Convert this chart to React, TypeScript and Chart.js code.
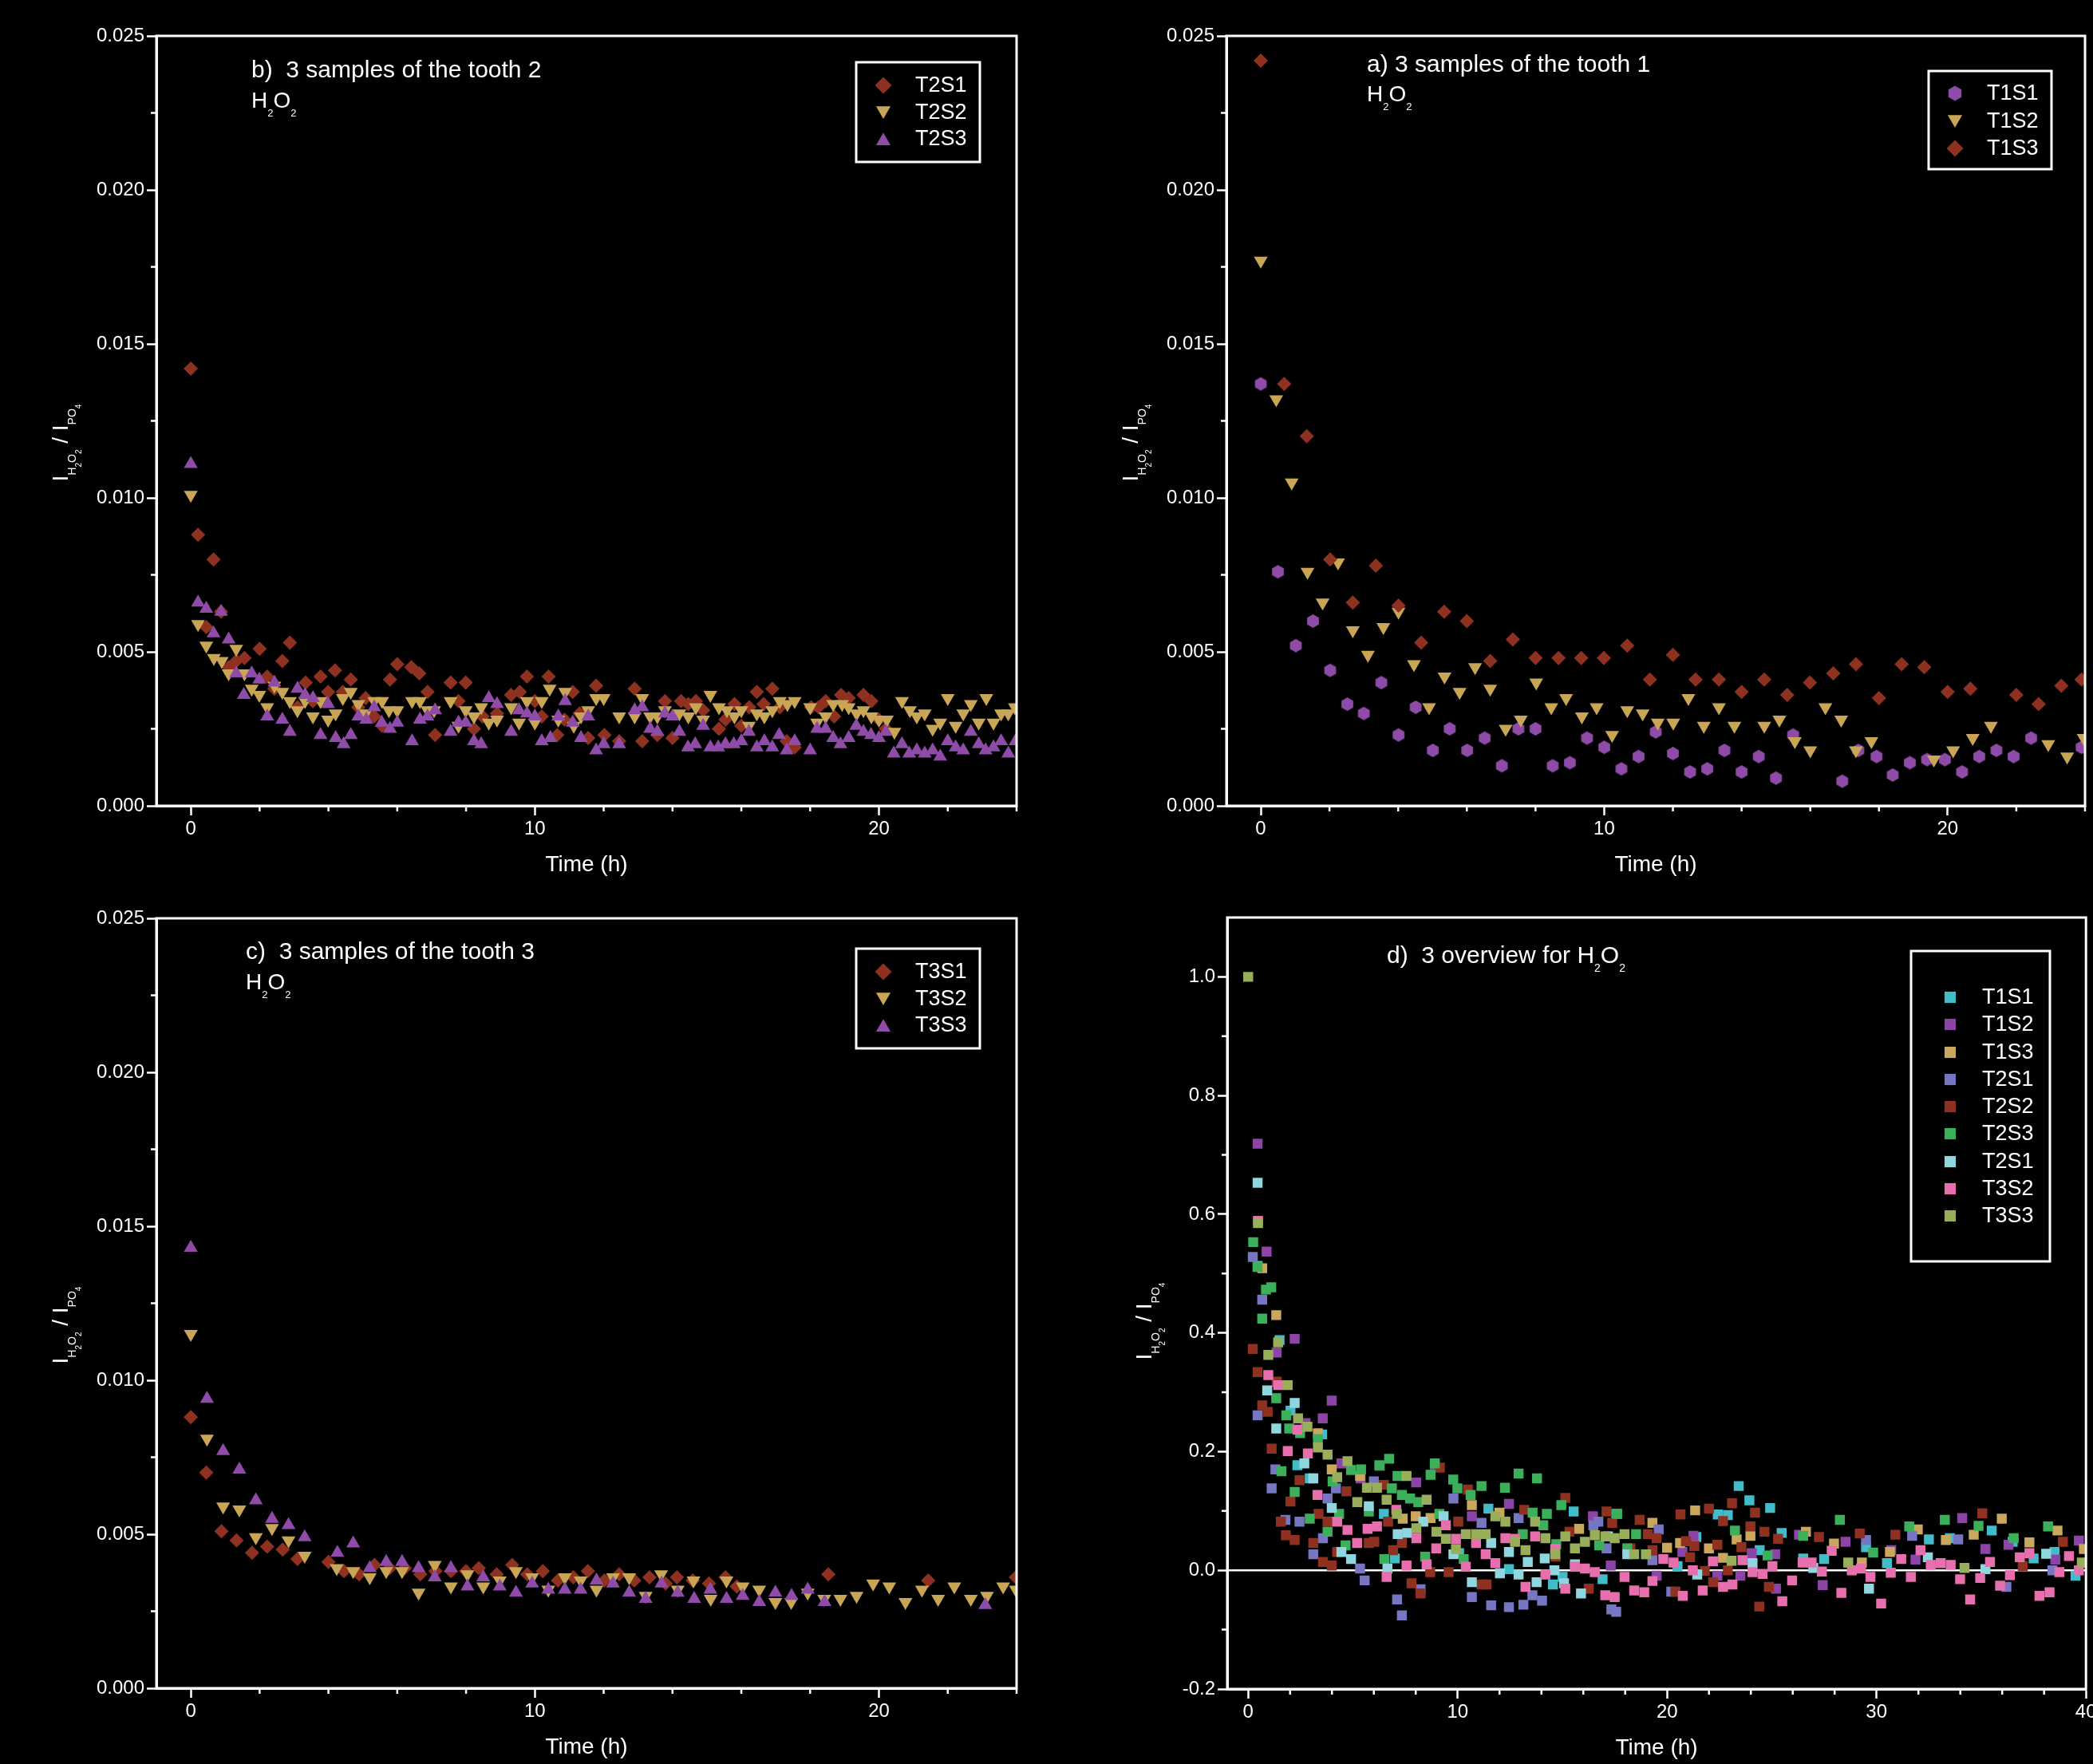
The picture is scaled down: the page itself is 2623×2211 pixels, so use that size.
import React, { useEffect, useRef } from 'react';
import { Chart, registerables } from 'chart.js';

Chart.register(...registerables);

const FONT = "'Liberation Sans', Arial, Helvetica, sans-serif";
const WHITE = '#ffffff';

type Pt = [number, number];

// ---------------- Panel b : tooth 2 ----------------
const B_T2S1: Pt[] = [[0,0.0142],[0.21,0.0088],[0.45,0.0058],[0.66,0.0080],[0.88,0.0063],[1.1,0.0045],[1.32,0.0047],[1.56,0.0048],[2.0,0.0051],[2.22,0.0042],[2.43,0.0038],[2.66,0.0047],[2.88,0.0053],[3.1,0.0032],[3.34,0.0040],[3.55,0.0034],[3.77,0.0042],[3.99,0.0037],[4.19,0.0044],[4.42,0.0037],[4.65,0.0041],[4.87,0.0032],[5.08,0.0035],[5.33,0.0029],[5.56,0.0026],[5.79,0.0041],[6.0,0.0046],[6.41,0.0045],[6.64,0.0043],[6.88,0.0037],[7.1,0.0023],[7.55,0.0040],[7.78,0.0034],[7.99,0.0040],[8.23,0.0025],[8.48,0.0029],[8.9,0.0030],[9.31,0.0036],[9.56,0.0037],[9.77,0.0042],[10.0,0.0034],[10.2,0.0029],[10.4,0.0042],[10.65,0.0023],[10.86,0.0028],[11.1,0.0037],[11.3,0.0030],[11.55,0.0022],[11.78,0.0039],[12.02,0.0023],[12.45,0.0021],[12.9,0.0038],[13.12,0.0021],[13.56,0.0023],[13.78,0.0034],[14.0,0.0022],[14.25,0.0034],[14.46,0.0033],[14.68,0.0034],[14.89,0.0031],[15.35,0.0025],[15.54,0.0028],[15.8,0.0033],[16.0,0.0026],[16.23,0.0032],[16.45,0.0037],[16.65,0.0033],[16.9,0.0038],[17.12,0.0032],[17.32,0.0021],[17.55,0.0019],[18.03,0.0032],[18.24,0.0032],[18.45,0.0034],[18.7,0.0029],[18.9,0.0036],[19.12,0.0035],[19.55,0.0036],[19.78,0.0034],[20.0,0.0028],[20.2,0.0025]];
const B_T2S2: Pt[] = [[0,0.0101],[0.21,0.0059],[0.45,0.0052],[0.67,0.0048],[0.9,0.0047],[1.1,0.0043],[1.32,0.0051],[1.56,0.0043],[1.77,0.0038],[1.99,0.0036],[2.22,0.0032],[2.43,0.0039],[2.66,0.0037],[2.88,0.0034],[3.1,0.0031],[3.32,0.0034],[3.55,0.0029],[3.77,0.0034],[3.99,0.0028],[4.21,0.0030],[4.42,0.0035],[4.65,0.0037],[4.87,0.0033],[5.08,0.0030],[5.33,0.0034],[5.56,0.0034],[5.76,0.0031],[6.0,0.0031],[6.43,0.0034],[6.66,0.0034],[6.88,0.0031],[7.07,0.0031],[7.55,0.0034],[7.78,0.0026],[7.99,0.0031],[8.23,0.0029],[8.44,0.0032],[8.66,0.0027],[8.9,0.0028],[9.31,0.0032],[9.54,0.0027],[9.77,0.0034],[10.0,0.0027],[10.2,0.0034],[10.43,0.0038],[10.68,0.0028],[10.88,0.0037],[11.13,0.0026],[11.34,0.0029],[11.55,0.0031],[11.78,0.0035],[12.0,0.0035],[12.45,0.0029],[12.9,0.0029],[13.12,0.0035],[13.35,0.0029],[13.56,0.0029],[13.78,0.0031],[14.2,0.0030],[14.46,0.0029],[14.68,0.0032],[14.89,0.0028],[15.1,0.0036],[15.35,0.0032],[15.58,0.0031],[15.8,0.0029],[16.0,0.0031],[16.22,0.0026],[16.45,0.0030],[16.67,0.0029],[16.9,0.0031],[17.12,0.0034],[17.34,0.0033],[17.55,0.0034],[18.0,0.0032],[18.2,0.0027],[18.45,0.0029],[18.67,0.0033],[18.93,0.0033],[19.12,0.0032],[19.35,0.0030],[19.55,0.0031],[19.78,0.0029],[20.0,0.0028],[20.23,0.0028],[20.45,0.0024],[20.67,0.0034],[20.9,0.0031],[21.1,0.0029],[21.33,0.0030],[21.56,0.0025],[21.78,0.0027],[22.0,0.0035],[22.23,0.0026],[22.45,0.0030],[22.67,0.0033],[22.9,0.0027],[23.12,0.0035],[23.33,0.0027],[23.55,0.0030],[23.76,0.0030],[23.95,0.0032]];
const B_T2S3: Pt[] = [[0,0.0111],[0.21,0.0066],[0.45,0.0064],[0.66,0.0056],[0.88,0.0063],[1.1,0.0054],[1.32,0.0043],[1.54,0.0036],[1.77,0.0043],[1.99,0.0041],[2.22,0.0029],[2.43,0.0040],[2.66,0.0028],[2.88,0.0024],[3.1,0.0038],[3.32,0.0036],[3.55,0.0035],[3.77,0.0023],[3.99,0.0033],[4.21,0.0022],[4.44,0.0020],[4.65,0.0023],[4.87,0.0029],[5.1,0.0028],[5.33,0.0032],[5.55,0.0027],[5.79,0.0025],[6.0,0.0027],[6.43,0.0021],[6.66,0.0028],[6.88,0.0029],[7.1,0.0031],[7.55,0.0024],[7.78,0.0027],[7.99,0.0027],[8.23,0.0021],[8.44,0.0020],[8.66,0.0035],[8.9,0.0033],[9.31,0.0024],[9.54,0.0031],[9.77,0.0030],[10.0,0.0029],[10.2,0.0021],[10.45,0.0022],[10.68,0.0029],[10.88,0.0034],[11.1,0.0027],[11.34,0.0022],[11.55,0.0029],[11.78,0.0018],[12.0,0.0020],[12.45,0.0020],[12.9,0.0031],[13.12,0.0032],[13.35,0.0025],[13.56,0.0024],[13.78,0.0030],[14.0,0.0029],[14.2,0.0024],[14.45,0.0019],[14.66,0.0020],[14.89,0.0026],[15.1,0.0019],[15.33,0.0019],[15.54,0.0020],[15.78,0.0020],[16.0,0.0021],[16.22,0.0024],[16.45,0.0019],[16.67,0.0021],[16.9,0.0019],[17.1,0.0023],[17.32,0.0018],[17.55,0.0021],[18.0,0.0018],[18.2,0.0025],[18.45,0.0025],[18.67,0.0022],[18.88,0.0020],[19.12,0.0022],[19.34,0.0026],[19.55,0.0024],[19.77,0.0023],[20.0,0.0022],[20.2,0.0024],[20.43,0.0017],[20.67,0.0020],[20.88,0.0017],[21.1,0.0018],[21.33,0.0017],[21.56,0.0018],[21.78,0.0016],[22.0,0.0021],[22.23,0.0019],[22.45,0.0018],[22.67,0.0024],[22.9,0.0020],[23.1,0.0018],[23.33,0.0019],[23.55,0.0021],[23.76,0.0017],[23.97,0.0021]];

// ---------------- Panel a : tooth 1 ----------------
const A_T1S1: Pt[] = [[0,0.0137],[0.5,0.0076],[1.02,0.0052],[1.52,0.0060],[2.02,0.0044],[2.52,0.0033],[3.0,0.0030],[3.51,0.0040],[4.01,0.0023],[4.51,0.0032],[5.01,0.0018],[5.5,0.0025],[6.01,0.0018],[6.52,0.0022],[7.02,0.0013],[7.5,0.0025],[8.0,0.0025],[8.5,0.0013],[9.0,0.0014],[9.5,0.0022],[10.0,0.0019],[10.5,0.0012],[11.0,0.0016],[11.5,0.0024],[12.0,0.0017],[12.5,0.0011],[13.0,0.0012],[13.5,0.0018],[14.0,0.0011],[14.5,0.0016],[15.0,0.0009],[15.5,0.0023],[16.93,0.0008],[17.4,0.0018],[17.93,0.0016],[18.4,0.0010],[18.9,0.0014],[19.4,0.0015],[19.92,0.0015],[20.42,0.0011],[20.92,0.0016],[21.42,0.0018],[21.92,0.0016],[22.43,0.0022],[23.9,0.0019]];
const A_T1S2: Pt[] = [[0,0.0177],[0.45,0.0132],[0.9,0.0105],[1.36,0.0076],[1.8,0.0066],[2.25,0.0079],[2.68,0.0057],[3.12,0.0049],[3.57,0.0058],[4.01,0.0063],[4.46,0.0046],[4.9,0.0032],[5.35,0.0042],[5.79,0.0037],[6.24,0.0045],[6.68,0.0038],[7.13,0.0025],[7.57,0.0028],[8.02,0.0040],[8.46,0.0032],[8.89,0.0035],[9.35,0.0029],[9.78,0.0032],[10.23,0.0023],[10.67,0.0031],[11.12,0.0030],[11.56,0.0027],[12.01,0.0027],[12.45,0.0035],[12.9,0.0026],[13.34,0.0032],[13.79,0.0026],[14.66,0.0026],[15.1,0.0028],[15.55,0.0021],[16.0,0.0018],[16.44,0.0032],[16.9,0.0028],[17.33,0.0018],[17.78,0.0021],[19.6,0.0015],[20.16,0.0018],[20.73,0.0022],[21.26,0.0026],[22.93,0.0020],[23.48,0.0016],[23.96,0.0022]];
const A_T1S3: Pt[] = [[0,0.0242],[0.68,0.0137],[1.34,0.0120],[2.02,0.0080],[2.68,0.0066],[3.35,0.0078],[4.01,0.0065],[4.67,0.0053],[5.34,0.0063],[6.0,0.0060],[6.68,0.0047],[7.34,0.0054],[8.0,0.0048],[8.67,0.0048],[9.33,0.0048],[9.99,0.0048],[10.67,0.0052],[11.33,0.0041],[12.0,0.0049],[12.66,0.0041],[13.34,0.0041],[14.0,0.0037],[14.66,0.0041],[15.33,0.0036],[15.99,0.0040],[16.67,0.0043],[17.33,0.0046],[18.0,0.0035],[18.66,0.0046],[19.32,0.0045],[20.0,0.0037],[20.66,0.0038],[22.0,0.0036],[22.65,0.0033],[23.31,0.0039],[23.9,0.0041]];

// ---------------- Panel c : tooth 3 ----------------
const C_T3S1: Pt[] = [[0,0.0088],[0.45,0.0070],[0.89,0.0051],[1.33,0.0048],[1.78,0.0044],[2.22,0.0046],[2.67,0.0045],[3.1,0.0042],[4.0,0.0041],[4.45,0.0038],[4.89,0.0037],[5.34,0.0040],[5.78,0.0039],[6.22,0.0039],[6.67,0.0037],[7.11,0.0038],[7.56,0.0038],[8.0,0.0038],[8.37,0.0039],[8.89,0.0037],[9.34,0.0040],[9.78,0.0037],[10.23,0.0038],[10.67,0.0035],[11.12,0.0036],[11.54,0.0038],[12.02,0.0035],[12.45,0.0037],[12.89,0.0035],[13.33,0.0036],[13.8,0.0034],[14.13,0.0036],[14.59,0.0035],[15.06,0.0034],[15.54,0.0036],[15.87,0.0033],[18.53,0.0037],[21.43,0.0035],[23.98,0.0036]];
const C_T3S2: Pt[] = [[0,0.0115],[0.47,0.0081],[0.94,0.0059],[1.41,0.0058],[1.89,0.0049],[2.36,0.0052],[2.84,0.0048],[3.31,0.0043],[4.24,0.0039],[4.72,0.0038],[5.2,0.0036],[5.68,0.0038],[6.14,0.0038],[6.62,0.0031],[7.09,0.0040],[7.56,0.0033],[8.04,0.0037],[8.5,0.0033],[8.98,0.0035],[9.45,0.0038],[9.92,0.0036],[10.39,0.0032],[10.87,0.0036],[11.33,0.0035],[11.79,0.0032],[12.27,0.0036],[12.74,0.0036],[13.22,0.0030],[13.67,0.0037],[14.15,0.0032],[14.61,0.0035],[15.11,0.0029],[15.57,0.0035],[16.04,0.0033],[16.52,0.0032],[16.99,0.0028],[17.45,0.0028],[17.93,0.0031],[18.41,0.0029],[18.88,0.0029],[19.35,0.0030],[19.83,0.0034],[20.3,0.0033],[20.77,0.0028],[21.25,0.0032],[21.72,0.0029],[22.19,0.0033],[22.67,0.0029],[23.14,0.0030],[23.61,0.0033],[23.98,0.0032]];
const C_T3S3: Pt[] = [[0,0.0143],[0.47,0.0094],[0.94,0.0077],[1.41,0.0071],[1.89,0.0061],[2.36,0.0055],[2.84,0.0053],[3.31,0.0049],[4.26,0.0044],[4.72,0.0047],[5.2,0.0039],[5.68,0.0041],[6.14,0.0041],[6.62,0.0039],[7.09,0.0036],[7.56,0.0039],[8.04,0.0033],[8.5,0.0036],[8.98,0.0033],[9.45,0.0031],[9.92,0.0034],[10.39,0.0032],[10.87,0.0032],[11.33,0.0032],[11.79,0.0035],[12.27,0.0034],[12.74,0.0031],[13.22,0.0029],[13.68,0.0034],[14.15,0.0031],[14.63,0.0029],[15.1,0.0032],[15.57,0.0029],[16.04,0.0030],[16.52,0.0028],[16.99,0.0031],[17.46,0.0030],[17.93,0.0032],[18.42,0.0028],[23.09,0.0027]];

// ---------------- Panel d : overview (normalised) ----------------
const D_T1S1: Pt[] = [[0.45,0.513],[1.5,0.388],[2.02,0.269],[2.35,0.177],[2.94,0.155],[3.53,0.229],[6.48,0.095],[7.0,0.020],[10.07,0.029],[11.47,0.104],[12.45,0.002],[14.55,-0.024],[15.01,-0.011],[15.54,0.099],[16.92,-0.015],[17.57,0.095],[20.5,0.007],[21.4,0.056],[22.42,0.094],[22.9,0.093],[23.42,0.142],[23.93,0.118],[24.42,0.034],[24.92,0.105],[25.47,0.063],[26.5,0.020],[27.5,0.019],[29.5,0.039],[30.5,0.012],[32.5,0.052],[33.5,0.054],[35.5,0.067],[36.5,0.048],[37.5,0.020],[38.5,0.031],[39.5,-0.009]];
const D_T1S2: Pt[] = [[0.45,0.719],[0.88,0.537],[1.36,0.367],[2.22,0.390],[2.74,0.248],[3.56,0.256],[3.99,0.286],[4.45,0.180],[5.37,0.155],[6.29,0.176],[8.02,0.148],[8.91,0.176],[10.68,0.091],[12.45,0.112],[16.46,0.091],[17.31,0.008],[19.5,-0.009],[20.73,0.031],[21.26,0.058],[22.4,-0.009],[23.5,-0.009],[24.04,0.029],[25.16,0.027],[25.2,-0.031],[26.3,0.060],[27.43,-0.025],[28.52,0.048],[30.7,0.034],[31.86,0.018],[34.09,0.088],[35.2,0.036],[36.3,0.043],[38.54,0.018],[39.66,0.050]];
const D_T1S3: Pt[] = [[0.67,0.509],[1.34,0.430],[3.33,0.231],[3.99,0.170],[5.34,0.159],[7.38,0.087],[8.0,0.091],[8.71,0.088],[10.68,0.110],[12.0,0.097],[15.8,0.070],[19.3,0.080],[20.0,0.038],[20.62,0.046],[21.34,0.101],[22.0,0.037],[22.67,0.021],[23.32,0.052],[23.98,0.058],[26.63,0.065],[27.97,0.045],[29.3,0.013],[30.64,0.031],[31.97,0.069],[33.31,0.051],[34.64,0.060],[35.98,0.087],[37.3,0.047],[38.64,0.067],[39.9,0.036]];
const D_T2S1: Pt[] = [[0.22,0.528],[0.45,0.261],[0.67,0.456],[1.12,0.138],[1.3,0.170],[1.78,0.085],[2.45,0.082],[3.11,0.027],[3.57,0.054],[3.79,0.121],[4.19,0.138],[5.34,0.003],[5.56,-0.017],[6.0,0.150],[7.11,-0.049],[7.34,-0.076],[8.23,-0.032],[9.8,0.121],[10.68,-0.045],[11.14,0.080],[11.6,-0.059],[12.45,-0.062],[12.91,0.088],[13.14,-0.058],[13.57,-0.042],[14.03,-0.051],[16.48,0.076],[16.72,0.082],[17.11,0.037],[17.34,-0.066],[17.57,-0.070],[19.3,0.017],[19.6,0.069],[20.2,-0.036],[29.5,0.051],[31.7,0.058],[33.9,0.052],[36.2,-0.028],[38.4,0.0]];
const D_T2S2: Pt[] = [[0.22,0.373],[0.45,0.334],[0.67,0.278],[0.93,0.267],[1.12,0.205],[1.36,0.318],[1.56,0.082],[1.8,0.059],[2.02,0.116],[2.22,0.051],[2.45,0.152],[3.11,0.046],[3.36,0.095],[3.57,0.014],[3.79,0.082],[3.99,0.008],[4.25,0.031],[4.69,0.133],[5.76,0.046],[6.02,0.048],[6.48,0.144],[6.68,0.082],[6.92,0.034],[7.34,0.046],[7.8,-0.022],[8.23,-0.039],[8.69,-0.003],[9.15,0.173],[9.57,-0.003],[10.03,0.082],[10.49,0.136],[11.14,-0.024],[11.38,-0.024],[13.18,0.102],[14.68,0.023],[15.14,0.122],[15.34,0.065],[16.26,-0.031],[17.11,0.099],[17.38,0.080],[18.25,0.037],[18.69,0.085],[19.08,0.061],[19.3,0.034],[19.5,0.054],[20.4,-0.036],[20.64,0.094],[20.9,0.049],[21.1,0.022],[21.3,0.041],[21.8,-0.001],[22.0,0.104],[22.2,-0.020],[22.4,0.043],[22.67,0.083],[22.9,0.0],[23.1,0.113],[23.55,0.039],[23.98,0.074],[24.2,0.097],[24.4,-0.061],[24.65,0.065],[24.86,-0.028],[25.3,0.053],[27.25,0.056],[29.2,0.062],[30.9,0.060],[35.05,0.096],[36.98,0.007],[38.9,0.048]];
const D_T2S3: Pt[] = [[0.24,0.553],[0.45,0.511],[0.67,0.424],[0.85,0.473],[1.1,0.477],[1.34,0.290],[1.59,0.167],[1.82,0.261],[1.96,0.239],[2.22,0.132],[2.48,0.231],[2.94,0.087],[3.33,0.221],[3.79,0.065],[4.03,0.150],[4.34,0.095],[4.65,0.042],[4.91,0.169],[5.39,0.170],[5.76,0.099],[6.26,0.177],[6.5,0.019],[6.73,0.188],[6.86,0.138],[7.13,0.159],[7.34,0.127],[7.73,0.121],[8.12,0.115],[8.45,0.023],[8.71,0.161],[8.91,0.180],[9.13,0.095],[9.79,0.153],[9.99,0.138],[10.29,0.019],[10.62,0.127],[11.14,0.142],[12.26,0.139],[12.91,0.163],[13.11,0.061],[13.58,0.097],[13.79,0.155],[14.09,0.076],[14.26,0.095],[14.71,0.044],[14.95,0.110],[16.76,0.042],[17.62,0.095],[18.1,0.037],[18.52,0.061],[18.99,0.027],[23.24,0.067],[24.8,0.025],[26.5,0.058],[28.25,0.085],[29.84,0.030],[31.56,0.074],[33.26,0.085],[34.87,0.075],[36.55,0.054],[38.19,0.074]];
const D_T2S1b: Pt[] = [[0.45,0.653],[0.91,0.303],[1.34,0.239],[2.22,0.282],[2.68,0.180],[3.11,0.155],[3.99,0.105],[4.45,0.031],[4.91,0.019],[5.76,0.108],[6.65,0.003],[7.14,0.061],[7.6,0.063],[8.36,0.082],[9.33,0.091],[9.8,0.027],[10.68,-0.020],[11.6,0.046],[12.02,-0.005],[12.45,0.031],[12.91,-0.007],[13.35,0.014],[13.77,-0.020],[14.16,0.020],[14.62,0.0],[15.08,-0.022],[15.6,0.010],[15.89,-0.039],[17.18,0.057],[18.1,0.027],[21.44,-0.007],[24.08,0.012],[26.98,0.004],[29.64,-0.031],[32.45,0.022],[35.2,0.002],[38.1,0.028]];
const D_T3S2: Pt[] = [[0.47,0.589],[0.96,0.329],[1.43,0.312],[1.89,0.201],[2.35,0.237],[2.85,0.197],[3.31,0.127],[4.25,0.082],[4.74,0.068],[5.2,0.046],[5.7,0.070],[6.15,0.074],[6.61,-0.011],[7.07,0.102],[7.56,0.008],[8.03,0.054],[8.52,0.010],[8.98,0.037],[9.44,0.076],[9.92,0.053],[10.39,0.006],[10.88,0.046],[11.34,0.027],[11.8,0.012],[12.28,0.054],[12.74,0.053],[13.24,-0.028],[13.7,0.057],[14.19,-0.007],[14.66,0.036],[15.14,-0.031],[15.6,0.006],[16.08,0.003],[16.55,-0.003],[17.05,-0.042],[17.5,-0.045],[17.97,-0.011],[18.43,-0.034],[18.91,-0.037],[19.3,-0.018],[19.82,0.019],[20.31,0.013],[20.75,-0.043],[21.23,0.0],[21.7,-0.034],[22.19,0.015],[22.67,-0.028],[23.12,-0.024],[23.6,0.017],[24.08,-0.003],[24.56,-0.006],[25.03,0.007],[25.5,-0.052],[25.97,-0.017],[26.47,0.013],[26.9,0.013],[27.39,-0.002],[27.86,0.033],[28.32,-0.038],[28.82,0.0],[29.26,0.003],[29.71,-0.011],[30.22,-0.056],[30.68,-0.004],[31.18,0.019],[31.64,-0.011],[32.1,0.034],[32.59,0.009],[33.06,0.012],[33.54,0.009],[33.99,-0.015],[34.47,-0.049],[34.95,-0.013],[35.42,0.014],[35.9,-0.026],[36.37,-0.008],[36.84,0.022],[37.3,0.029],[37.78,-0.043],[38.26,-0.037],[38.73,-0.003],[39.19,0.024],[39.66,0.0]];
const D_T3S3: Pt[] = [[0,1.0],[0.47,0.585],[0.96,0.363],[1.43,0.384],[1.89,0.312],[2.38,0.256],[2.83,0.242],[3.33,0.207],[3.79,0.195],[4.25,0.157],[4.74,0.184],[5.21,0.115],[5.67,0.139],[6.15,0.139],[6.61,0.119],[7.1,0.095],[7.56,0.159],[8.03,0.071],[8.52,0.119],[8.99,0.065],[9.44,0.053],[9.92,0.036],[10.39,0.061],[10.88,0.061],[11.34,0.061],[11.8,0.091],[12.28,0.082],[12.74,0.048],[13.24,0.034],[13.7,0.082],[14.19,0.054],[14.66,0.027],[15.14,0.057],[15.6,0.037],[16.08,0.048],[16.55,0.059],[17.05,0.057],[17.5,0.054],[17.97,0.061],[18.43,0.027],[19.0,0.027],[23.08,0.016],[28.65,0.013],[34.2,0.004],[39.8,0.013]];

// ---------------- ticks ----------------
const X_MAJOR_24 = [0, 10, 20];
const X_MINOR_24 = [2, 4, 6, 8, 12, 14, 16, 18, 22, 24];
const Y_MAJOR_025 = [0, 0.005, 0.01, 0.015, 0.02, 0.025];
const Y_LABELS_025 = ['0.000', '0.005', '0.010', '0.015', '0.020', '0.025'];
const Y_MINOR_025 = [0.0025, 0.0075, 0.0125, 0.0175, 0.0225];
const X_MAJOR_40 = [0, 10, 20, 30, 40];
const X_MINOR_40 = [2, 4, 6, 8, 12, 14, 16, 18, 22, 24, 26, 28, 32, 34, 36, 38];
const Y_MAJOR_D = [-0.2, 0, 0.2, 0.4, 0.6, 0.8, 1.0];
const Y_LABELS_D = ['-0.2', '0.0', '0.2', '0.4', '0.6', '0.8', '1.0'];
const Y_MINOR_D = [-0.1, 0.1, 0.3, 0.5, 0.7, 0.9];

// ---------------- colours ----------------
const RED = '#8e3121';
const GOLD = '#c9a655';
const PURPLE = '#8e4ba8';
const D_COLORS = ['#41bcc8', '#8c45a6', '#c9a75c', '#7676c2', '#8e3121', '#3caf5b', '#90d6de', '#e76fad', '#99ae5b'];

type Seg = { t: string; s: number; dy: number };
const h2o2 = (s: number, ss: number, dy: number): Seg[] => [
  { t: 'H', s, dy: 0 }, { t: '2', s: ss, dy }, { t: 'O', s, dy: 0 }, { t: '2', s: ss, dy },
];
const Y_LABEL: Seg[] = [
  { t: 'I', s: 28, dy: 0 }, { t: 'H', s: 14, dy: 10 }, { t: '2', s: 10, dy: 17 }, { t: 'O', s: 14, dy: 10 }, { t: '2', s: 10, dy: 17 },
  { t: ' / ', s: 28, dy: 0 }, { t: 'I', s: 28, dy: 0 }, { t: 'PO', s: 14, dy: 10 }, { t: '4', s: 10, dy: 17 },
];

type Series = { label: string; data: Pt[]; color: string; style: string; r: number };
type PanelCfg = {
  id: string;
  canvas: { x: number; y: number; w: number; h: number };
  plot: { l: number; t: number; r: number; b: number };
  xMin: number; xMax: number; xMajor: number[]; xMinor: number[];
  yMin: number; yMax: number; yMajor: number[]; yLabels: string[]; yMinor: number[];
  series: Series[];
  titles: { x: number; y: number; segs: Seg[] }[];
  yLabel: { x: number; cy: number };
  legend: { x: number; y: number; w: number; h: number; mx: number; tx: number; rows: number[]; mr: number };
  zeroLine?: boolean;
};

const PANELS: PanelCfg[] = [
  {
    id: 'b',
    canvas: { x: 0, y: 0, w: 1311, h: 1105 },
    plot: { l: 196, t: 45, r: 1274, b: 1010 },
    xMin: -1, xMax: 24, xMajor: X_MAJOR_24, xMinor: X_MINOR_24,
    yMin: 0, yMax: 0.025, yMajor: Y_MAJOR_025, yLabels: Y_LABELS_025, yMinor: Y_MINOR_025,
    series: [
      { label: 'T2S1', data: B_T2S1, color: RED, style: 'rectRot', r: 9 },
      { label: 'T2S2', data: B_T2S2, color: GOLD, style: 'triangleDown', r: 10 },
      { label: 'T2S3', data: B_T2S3, color: PURPLE, style: 'triangle', r: 10 },
    ],
    titles: [
      { x: 315, y: 97, segs: [{ t: 'b)  3 samples of the tooth 2', s: 30, dy: 0 }] },
      { x: 315, y: 135, segs: h2o2(28, 13, 11) },
    ],
    yLabel: { x: 85, cy: 555 },
    legend: { x: 1073, y: 78, w: 155, h: 125, mx: 1107, tx: 1147, rows: [107, 141, 174], mr: 10.5 },
  },
  {
    id: 'a',
    canvas: { x: 1311, y: 0, w: 1312, h: 1105 },
    plot: { l: 1537, t: 45, r: 2615, b: 1010 },
    xMin: -1, xMax: 24, xMajor: X_MAJOR_24, xMinor: X_MINOR_24,
    yMin: 0, yMax: 0.025, yMajor: Y_MAJOR_025, yLabels: Y_LABELS_025, yMinor: Y_MINOR_025,
    series: [
      { label: 'T1S1', data: A_T1S1, color: PURPLE, style: 'hexagon', r: 8.5 },
      { label: 'T1S2', data: A_T1S2, color: GOLD, style: 'triangleDown', r: 10 },
      { label: 'T1S3', data: A_T1S3, color: RED, style: 'rectRot', r: 9 },
    ],
    titles: [
      { x: 1713, y: 90, segs: [{ t: 'a) 3 samples of the tooth 1', s: 30, dy: 0 }] },
      { x: 1713, y: 127, segs: h2o2(28, 13, 11) },
    ],
    yLabel: { x: 1426, cy: 555 },
    legend: { x: 2417, y: 89, w: 154, h: 123, mx: 2450, tx: 2490, rows: [117, 152, 186], mr: 10.5 },
  },
  {
    id: 'c',
    canvas: { x: 0, y: 1105, w: 1311, h: 1106 },
    plot: { l: 196, t: 1151, r: 1274, b: 2116 },
    xMin: -1, xMax: 24, xMajor: X_MAJOR_24, xMinor: X_MINOR_24,
    yMin: 0, yMax: 0.025, yMajor: Y_MAJOR_025, yLabels: Y_LABELS_025, yMinor: Y_MINOR_025,
    series: [
      { label: 'T3S1', data: C_T3S1, color: RED, style: 'rectRot', r: 9 },
      { label: 'T3S2', data: C_T3S2, color: GOLD, style: 'triangleDown', r: 10 },
      { label: 'T3S3', data: C_T3S3, color: PURPLE, style: 'triangle', r: 10 },
    ],
    titles: [
      { x: 308, y: 1202, segs: [{ t: 'c)  3 samples of the tooth 3', s: 30, dy: 0 }] },
      { x: 308, y: 1240, segs: h2o2(28, 13, 11) },
    ],
    yLabel: { x: 85, cy: 1661 },
    legend: { x: 1073, y: 1189, w: 155, h: 125, mx: 1107, tx: 1147, rows: [1218, 1252, 1285], mr: 10.5 },
  },
  {
    id: 'd',
    canvas: { x: 1311, y: 1105, w: 1312, h: 1106 },
    plot: { l: 1538, t: 1150, r: 2615, b: 2117 },
    xMin: -1, xMax: 40, xMajor: X_MAJOR_40, xMinor: X_MINOR_40,
    yMin: -0.2, yMax: 1.1, yMajor: Y_MAJOR_D, yLabels: Y_LABELS_D, yMinor: Y_MINOR_D,
    series: [
      { label: 'T1S1', data: D_T1S1, color: D_COLORS[0], style: 'rect', r: 8.8 },
      { label: 'T1S2', data: D_T1S2, color: D_COLORS[1], style: 'rect', r: 8.8 },
      { label: 'T1S3', data: D_T1S3, color: D_COLORS[2], style: 'rect', r: 8.8 },
      { label: 'T2S1', data: D_T2S1, color: D_COLORS[3], style: 'rect', r: 8.8 },
      { label: 'T2S2', data: D_T2S2, color: D_COLORS[4], style: 'rect', r: 8.8 },
      { label: 'T2S3', data: D_T2S3, color: D_COLORS[5], style: 'rect', r: 8.8 },
      { label: 'T2S1', data: D_T2S1b, color: D_COLORS[6], style: 'rect', r: 8.8 },
      { label: 'T3S2', data: D_T3S2, color: D_COLORS[7], style: 'rect', r: 8.8 },
      { label: 'T3S3', data: D_T3S3, color: D_COLORS[8], style: 'rect', r: 8.8 },
    ],
    titles: [
      { x: 1738, y: 1207, segs: [{ t: 'd)  3 overview for H', s: 30, dy: 0 }, { t: '2', s: 14, dy: 11 }, { t: 'O', s: 30, dy: 0 }, { t: '2', s: 14, dy: 11 }] },
    ],
    yLabel: { x: 1443, cy: 1656 },
    legend: { x: 2395, y: 1192, w: 174, h: 389, mx: 2444, tx: 2484, rows: [1250, 1284, 1319, 1353, 1387, 1421, 1456, 1490, 1524], mr: 10 },
    zeroLine: true,
  },
];

function markerPath(ctx: CanvasRenderingContext2D, style: string, x: number, y: number, r: number) {
  ctx.beginPath();
  if (style === 'rectRot') {
    ctx.moveTo(x - r, y); ctx.lineTo(x, y - r); ctx.lineTo(x + r, y); ctx.lineTo(x, y + r);
  } else if (style === 'triangle') {
    ctx.moveTo(x, y - r); ctx.lineTo(x + r * 0.866, y + r * 0.5); ctx.lineTo(x - r * 0.866, y + r * 0.5);
  } else if (style === 'triangleDown') {
    ctx.moveTo(x, y + r); ctx.lineTo(x + r * 0.866, y - r * 0.5); ctx.lineTo(x - r * 0.866, y - r * 0.5);
  } else if (style === 'rect') {
    const h = r * Math.SQRT1_2;
    ctx.rect(x - h, y - h, 2 * h, 2 * h);
  } else if (style === 'hexagon') {
    for (let k = 0; k < 6; k++) {
      const a = -Math.PI / 2 + (k * Math.PI) / 3;
      const px = x + r * Math.cos(a), py = y + r * Math.sin(a);
      if (k === 0) ctx.moveTo(px, py); else ctx.lineTo(px, py);
    }
  }
  ctx.closePath();
}

function makeHex(color: string, r: number) {
  const c = document.createElement('canvas');
  const s = Math.ceil(2 * r) + 2;
  c.width = s; c.height = s;
  const g = c.getContext('2d')!;
  g.fillStyle = color;
  markerPath(g, 'hexagon', s / 2, s / 2, r);
  g.fill();
  return c;
}

function richWidth(ctx: CanvasRenderingContext2D, segs: Seg[]) {
  let w = 0;
  for (const g of segs) { ctx.font = `${g.s}px ${FONT}`; w += ctx.measureText(g.t).width; }
  return w;
}
function drawRich(ctx: CanvasRenderingContext2D, segs: Seg[], x: number, y: number) {
  let cx = x;
  for (const g of segs) {
    ctx.font = `${g.s}px ${FONT}`;
    ctx.fillText(g.t, cx, y + g.dy);
    cx += ctx.measureText(g.t).width;
  }
}

function buildConfig(cfg: PanelCfg): any {
  const YW = 110, XH = 91;
  const ox = cfg.canvas.x, oy = cfg.canvas.y;
  const padding = {
    left: cfg.plot.l - ox - YW,
    top: cfg.plot.t - oy,
    right: ox + cfg.canvas.w - cfg.plot.r,
    bottom: oy + cfg.canvas.h - cfg.plot.b - XH,
  };
  const n = cfg.series.length;
  const datasets = cfg.series.map((s, i) => ({
    label: s.label,
    data: s.data.map(([x, y]) => ({ x, y })),
    backgroundColor: s.color,
    borderColor: s.color,
    borderWidth: 0,
    pointBorderWidth: 0,
    pointBackgroundColor: s.color,
    pointStyle: s.style === 'hexagon' ? makeHex(s.color, s.r) : s.style === 'triangleDown' ? 'triangle' : s.style,
    pointRotation: s.style === 'triangleDown' ? 180 : 0,
    pointRadius: s.r,
    pointHoverRadius: s.r,
    showLine: false,
    order: n - i,
    clip: 0,
  }));

  const decor = {
    id: 'decor_' + cfg.id,
    beforeDatasetsDraw(chart: any) {
      if (!cfg.zeroLine) return;
      const ctx = chart.ctx, a = chart.chartArea;
      const y0 = chart.scales.y.getPixelForValue(0);
      ctx.save();
      ctx.strokeStyle = WHITE; ctx.lineWidth = 2.5;
      ctx.beginPath(); ctx.moveTo(a.left, y0); ctx.lineTo(a.right, y0); ctx.stroke();
      ctx.restore();
    },
    afterDatasetsDraw(chart: any) {
      const ctx: CanvasRenderingContext2D = chart.ctx;
      const a = chart.chartArea;
      const xs = chart.scales.x, ys = chart.scales.y;
      ctx.save();
      // frame
      ctx.strokeStyle = WHITE; ctx.lineWidth = 3;
      ctx.strokeRect(a.left, a.top, a.right - a.left, a.bottom - a.top);
      // minor ticks
      ctx.lineWidth = 2.5;
      ctx.beginPath();
      for (const v of cfg.xMinor) { const p = xs.getPixelForValue(v); ctx.moveTo(p, a.bottom); ctx.lineTo(p, a.bottom + 7); }
      for (const v of cfg.yMinor) { const p = ys.getPixelForValue(v); ctx.moveTo(a.left, p); ctx.lineTo(a.left - 7, p); }
      ctx.stroke();
      // titles
      ctx.fillStyle = WHITE; ctx.textBaseline = 'alphabetic'; ctx.textAlign = 'left';
      for (const t of cfg.titles) drawRich(ctx, t.segs, t.x - ox, t.y - oy);
      // y axis label (rotated)
      const w = richWidth(ctx, Y_LABEL);
      ctx.save();
      ctx.translate(cfg.yLabel.x - ox, cfg.yLabel.cy - oy);
      ctx.rotate(-Math.PI / 2);
      drawRich(ctx, Y_LABEL, -w / 2, 0);
      ctx.restore();
      // legend
      const L = cfg.legend;
      ctx.fillStyle = '#000';
      ctx.fillRect(L.x - ox, L.y - oy, L.w, L.h);
      ctx.strokeStyle = WHITE; ctx.lineWidth = 3;
      ctx.strokeRect(L.x - ox, L.y - oy, L.w, L.h);
      cfg.series.forEach((s, i) => {
        const ry = L.rows[i] - oy;
        ctx.fillStyle = s.color;
        const off = s.style === 'triangle' ? L.mr / 4 : s.style === 'triangleDown' ? -L.mr / 4 : 0;
        markerPath(ctx, s.style, L.mx - ox, ry + off, s.style === 'hexagon' ? L.mr * 0.9 : L.mr);
        ctx.fill();
        ctx.fillStyle = WHITE;
        ctx.font = `27px ${FONT}`;
        ctx.textBaseline = 'middle';
        ctx.fillText(s.label, L.tx - ox, ry + 1);
      });
      ctx.restore();
    },
  };

  const tickFont = { family: FONT, size: 24 };
  return {
    type: 'scatter',
    data: { datasets },
    options: {
      responsive: false,
      maintainAspectRatio: false,
      animation: false,
      events: [],
      layout: { padding },
      plugins: { legend: { display: false }, tooltip: { enabled: false }, title: { display: false } },
      scales: {
        x: {
          type: 'linear', position: 'bottom', min: cfg.xMin, max: cfg.xMax,
          afterBuildTicks: (s: any) => { s.ticks = cfg.xMajor.map((v) => ({ value: v })); },
          afterFit: (s: any) => { s.height = XH; s.paddingLeft = 0; s.paddingRight = 0; },
          ticks: { autoSkip: false, maxRotation: 0, minRotation: 0, color: WHITE, font: tickFont, padding: 3, callback: (v: any) => String(v) },
          grid: { display: true, drawOnChartArea: false, drawTicks: true, tickLength: 12, tickWidth: 2.5, tickColor: WHITE, color: WHITE },
          border: { display: true, color: WHITE, width: 3 },
          title: { display: true, text: 'Time (h)', color: WHITE, font: { family: FONT, size: 28 }, padding: 0 },
        },
        y: {
          type: 'linear', position: 'left', min: cfg.yMin, max: cfg.yMax,
          afterBuildTicks: (s: any) => { s.ticks = cfg.yMajor.map((v) => ({ value: v })); },
          afterFit: (s: any) => { s.width = YW; s.paddingTop = 0; s.paddingBottom = 0; },
          ticks: { autoSkip: false, color: WHITE, font: tickFont, padding: 3, callback: (_v: any, i: number) => cfg.yLabels[i] },
          grid: { display: true, drawOnChartArea: false, drawTicks: true, tickLength: 12, tickWidth: 2.5, tickColor: WHITE, color: WHITE },
          border: { display: true, color: WHITE, width: 3 },
        },
      },
    },
    plugins: [decor],
  };
}

function Panel({ cfg }: { cfg: PanelCfg }) {
  const ref = useRef<HTMLCanvasElement>(null);
  useEffect(() => {
    const chart = new Chart(ref.current as HTMLCanvasElement, buildConfig(cfg));
    return () => chart.destroy();
  }, [cfg]);
  return (
    <canvas
      ref={ref}
      width={cfg.canvas.w}
      height={cfg.canvas.h}
      style={{ position: 'absolute', left: cfg.canvas.x, top: cfg.canvas.y, width: cfg.canvas.w, height: cfg.canvas.h }}
    />
  );
}

export default function App() {
  useEffect(() => {
    document.body.style.margin = '0';
    document.body.style.background = '#000';
  }, []);
  return (
    <div style={{ position: 'absolute', left: 0, top: 0, width: 2623, height: 2211, background: '#000', overflow: 'hidden' }}>
      {PANELS.map((p) => <Panel key={p.id} cfg={p} />)}
    </div>
  );
}
